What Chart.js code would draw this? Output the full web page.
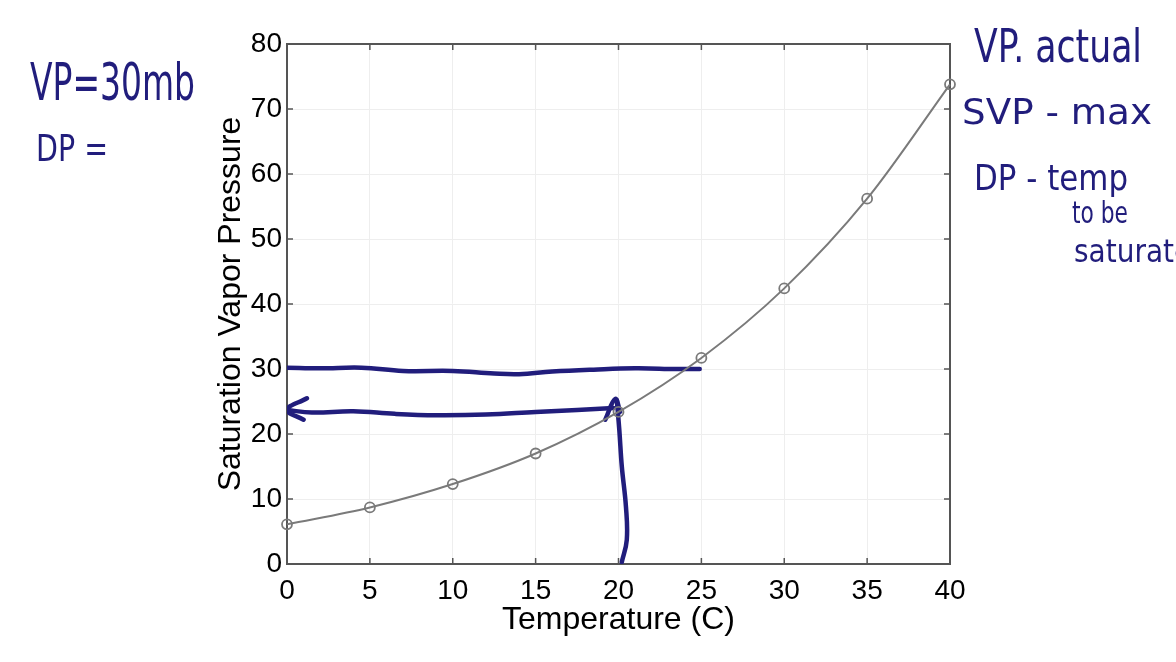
<!DOCTYPE html>
<html>
<head>
<meta charset="utf-8">
<script src="https://cdn.jsdelivr.net/npm/chart.js@4"></script>
<style>
  html, body { margin: 0; padding: 0; background: #ffffff; }
  #wrap { width: 1176px; height: 662px; }
</style>
</head>
<body>
<div id="wrap"><canvas id="svp-chart"></canvas></div>
<script>
// saturation vapor pressure curve
const temps = [0, 5, 10, 15, 20, 25, 30, 35, 40];
const svp = [6.1, 8.7, 12.3, 17.0, 23.4, 31.7, 42.4, 56.2, 73.8];

// hand-drawn pen strokes
const vpLineX = [0, 2, 4.5, 7, 10, 12.5, 14, 16, 18.5, 21, 23.5, 24.9];
const vpLineY = [30.2, 30.1, 30.2, 29.7, 29.7, 29.3, 29.2, 29.6, 29.9, 30.1, 30.0, 30.0];
const dpLineX = [0, 1.5, 4, 6.5, 9, 12, 15, 17.5, 19.7];
const dpLineY = [23.7, 23.3, 23.5, 23.1, 22.9, 23.0, 23.4, 23.7, 24.0];
const arrowX = [1.2, 0, 1.0];
const arrowY = [25.5, 23.7, 22.2];
const upLineX = [20.2, 20.5, 20.45, 20.2, 20.05, 19.9];
const upLineY = [0.3, 3.7, 8.8, 15, 20.6, 25.2];
const caretX = [19.2, 19.8, 20.1];
const caretY = [22.2, 25.4, 23.4];

const notes = ["VP=30mb", "DP =", "VP. actual", "SVP - max", "DP - temp", "to be", "saturated"];

const pen = "#211d7c";
const toPts = (xs, ys) => xs.map((x, i) => ({ x: x, y: ys[i] }));

function penStroke(xs, ys) {
    return {
        data: toPts(xs, ys),
        showLine: true,
        borderColor: pen,
        borderWidth: 4.5,
        pointRadius: 0,
        tension: 0.4,
        borderCapStyle: "round",
        borderJoinStyle: "round",
    };
}

const frame = {
    id: "frame",
    beforeDatasetsDraw(chart) {
        const { ctx, chartArea: a, scales } = chart;
        ctx.save();
        ctx.strokeStyle = "#555555";
        ctx.lineWidth = 2;
        ctx.strokeRect(a.left, a.top, a.right - a.left, a.bottom - a.top);
        ctx.lineWidth = 1.5;
        ctx.beginPath();
        scales.x.ticks.forEach((t) => {
            const px = scales.x.getPixelForValue(t.value);
            ctx.moveTo(px, a.bottom); ctx.lineTo(px, a.bottom - 6);
            ctx.moveTo(px, a.top); ctx.lineTo(px, a.top + 6);
        });
        scales.y.ticks.forEach((t) => {
            const py = scales.y.getPixelForValue(t.value);
            ctx.moveTo(a.left, py); ctx.lineTo(a.left + 6, py);
            ctx.moveTo(a.right, py); ctx.lineTo(a.right - 6, py);
        });
        ctx.stroke();
        ctx.restore();
    },
    afterDraw(chart) {
        const ctx = chart.ctx;
        // x, baseline, font size, width on screen
        const spots = [
            [30, 100, 52, 165], [36, 161, 38, 72],
            [974, 62, 46, 168], [962, 124, 36, 190], [974, 190, 35, 154],
            [1072, 223, 30, 56], [1074, 262, 32, 135],
        ];
        ctx.save();
        ctx.fillStyle = pen;
        ctx.textBaseline = "alphabetic";
        notes.forEach((txt, i) => {
            const [x, y, s, w] = spots[i];
            ctx.font = s + "px 'DejaVu Sans'";
            const k = w / ctx.measureText(txt).width;
            ctx.save();
            ctx.translate(x, y);
            ctx.scale(k, 1);
            ctx.fillText(txt, 0, 0);
            ctx.restore();
        });
        ctx.restore();
    },
};

const svpCtx = document.getElementById("svp-chart");

let svpChart = new Chart(svpCtx, {
    type: "scatter",
    data: {
        datasets: [
            {
                label: "SVP",
                data: toPts(temps, svp),
                showLine: true,
                clip: false,
                borderColor: "#7a7a7a",
                borderWidth: 2,
                cubicInterpolationMode: "monotone",
                pointRadius: 5,
                pointBorderWidth: 1.8,
                pointBorderColor: "#7a7a7a",
                pointBackgroundColor: "rgba(255,255,255,0)",
            },
            penStroke(vpLineX, vpLineY),
            penStroke(dpLineX, dpLineY),
            penStroke(arrowX, arrowY),
            penStroke(upLineX, upLineY),
            penStroke(caretX, caretY),
        ],
    },
    plugins: [frame],
    options: {
        responsive: true,
        maintainAspectRatio: false,
        animation: false,
        layout: { padding: { left: 208, right: 226, top: 44, bottom: 23 } },
        plugins: { legend: { display: false }, tooltip: { enabled: false } },
        scales: {
            x: {
                type: "linear",
                min: 0,
                max: 40,
                afterFit: (s) => { s.height = 75; },
                ticks: {
                    stepSize: 5,
                    padding: 10,
                    color: "#000000",
                    font: { family: "'Liberation Sans'", size: 28 },
                },
                grid: { color: "#eeeeee", lineWidth: 1, tickLength: 0 },
                border: { color: "#555555", width: 2 },
                title: {
                    display: true,
                    text: "Temperature (C)",
                    color: "#000000",
                    font: { family: "'Liberation Sans'", size: 32 },
                    padding: 0,
                },
            },
            y: {
                type: "linear",
                min: 0,
                max: 80,
                afterFit: (s) => { s.width = 79; },
                ticks: {
                    stepSize: 10,
                    padding: 5,
                    color: "#000000",
                    font: { family: "'Liberation Sans'", size: 28 },
                },
                grid: { color: "#eeeeee", lineWidth: 1, tickLength: 0 },
                border: { color: "#555555", width: 2 },
                title: {
                    display: true,
                    text: "Saturation Vapor Pressure",
                    color: "#000000",
                    font: { family: "'Liberation Sans'", size: 32 },
                    padding: 4,
                },
            },
        },
    },
});
</script>
</body>
</html>
